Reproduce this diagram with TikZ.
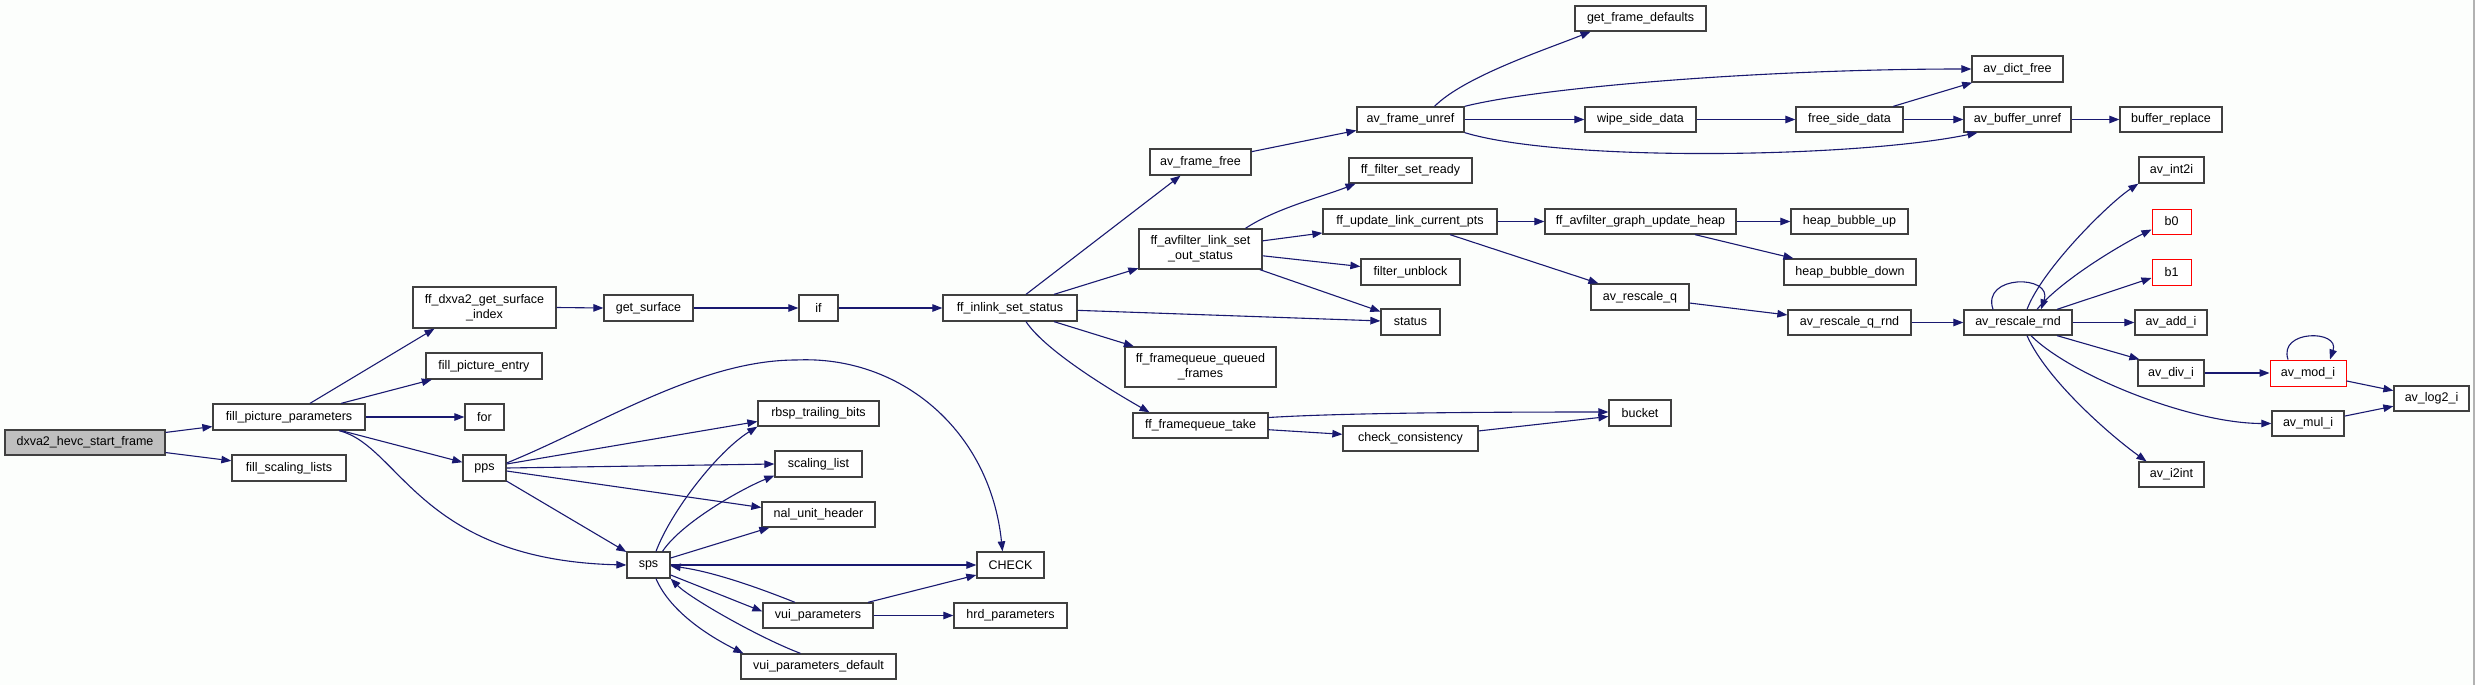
\documentclass[tikz,border=0pt]{standalone}
\usepackage{fontspec}
\setmainfont{Liberation Sans}
\usetikzlibrary{arrows.meta}
\definecolor{edgeblue}{HTML}{191970}
\definecolor{boxgray}{HTML}{404040}
\definecolor{startfill}{HTML}{BFBFBF}
\definecolor{bgcol}{HTML}{FCFEFC}
\definecolor{redbox}{HTML}{FF0000}
\begin{document}
\begin{tikzpicture}[x=1pt,y=1pt,
  box/.style={draw=boxgray, line width=1.3pt, fill=white, inner sep=0pt, align=center,
    font=\fontsize{12.5}{15}\selectfont},
  redb/.style={box, draw=redbox, line width=1pt},
  startb/.style={box, fill=startfill},
  e/.style={draw=edgeblue, line width=1.1pt, -{Triangle[length=10pt,width=7.5pt]}}]
\useasboundingbox (0,0) rectangle (2475,-685);
\fill[bgcol] (0,0) rectangle (2475,-685);
\draw[gray!60, line width=1.5pt] (2474,0) -- (2474,-685);
% nodes
\node[startb, minimum width=160pt, minimum height=25pt] (start) at (85,-442.5) {dxva2\_hevc\_start\_frame};
\node[box, minimum width=152pt, minimum height=26pt] (fpp) at (289,-417) {fill\_picture\_parameters};
\node[box, minimum width=114pt, minimum height=26pt] (fsl) at (289,-468) {fill\_scaling\_lists};
\node[box, minimum width=143pt, minimum height=41pt] (gsi) at (484.5,-307.5) {ff\_dxva2\_get\_surface\\\_index};
\node[box, minimum width=116pt, minimum height=26pt] (fpe) at (484,-366) {fill\_picture\_entry};
\node[box, minimum width=39pt, minimum height=26pt] (nfor) at (484.5,-417) {for};
\node[box, minimum width=43pt, minimum height=26pt] (pps) at (484.5,-468) {pps};
\node[box, minimum width=89pt, minimum height=26pt] (gs) at (648.5,-308) {get\_surface};
\node[box, minimum width=43pt, minimum height=26pt] (sps) at (648.5,-565) {sps};
\node[box, minimum width=39pt, minimum height=26pt] (nif) at (818.5,-308) {if};
\node[box, minimum width=121pt, minimum height=25pt] (rtb) at (818.5,-413.5) {rbsp\_trailing\_bits};
\node[box, minimum width=87pt, minimum height=26pt] (sl) at (818.5,-464) {scaling\_list};
\node[box, minimum width=113pt, minimum height=25pt] (nuh) at (818.5,-514.5) {nal\_unit\_header};
\node[box, minimum width=110pt, minimum height=25pt] (vui) at (818,-615.5) {vui\_parameters};
\node[box, minimum width=155pt, minimum height=25pt] (vuid) at (818.5,-666.5) {vui\_parameters\_default};
\node[box, minimum width=134pt, minimum height=26pt] (fis) at (1010,-308) {ff\_inlink\_set\_status};
\node[box, minimum width=67pt, minimum height=26pt] (check) at (1010.5,-565) {CHECK};
\node[box, minimum width=113pt, minimum height=25pt] (hrd) at (1010.5,-615.5) {hrd\_parameters};
\node[box, minimum width=101pt, minimum height=26pt] (aff) at (1200.5,-162) {av\_frame\_free};
\node[box, minimum width=123pt, minimum height=40pt] (fals) at (1200.5,-249) {ff\_avfilter\_link\_set\\\_out\_status};
\node[box, minimum width=151pt, minimum height=40pt] (fqq) at (1200.5,-367) {ff\_framequeue\_queued\\\_frames};
\node[box, minimum width=135pt, minimum height=25pt] (fqt) at (1200.5,-425.5) {ff\_framequeue\_take};
\node[box, minimum width=107pt, minimum height=25pt] (afu) at (1410.5,-119.5) {av\_frame\_unref};
\node[box, minimum width=123pt, minimum height=25pt] (ffsr) at (1410.5,-170.5) {ff\_filter\_set\_ready};
\node[box, minimum width=174pt, minimum height=25pt] (fulcp) at (1410,-221.5) {ff\_update\_link\_current\_pts};
\node[box, minimum width=99pt, minimum height=26pt] (fu) at (1410.5,-272) {filter\_unblock};
\node[box, minimum width=59pt, minimum height=26pt] (status) at (1410.5,-322) {status};
\node[box, minimum width=135pt, minimum height=25pt] (cc) at (1410.5,-438.5) {check\_consistency};
\node[box, minimum width=131pt, minimum height=25pt] (gfd) at (1640.5,-18.5) {get\_frame\_defaults};
\node[box, minimum width=111pt, minimum height=25pt] (wsd) at (1640.5,-119.5) {wipe\_side\_data};
\node[box, minimum width=191pt, minimum height=25pt] (fagu) at (1640.5,-221.5) {ff\_avfilter\_graph\_update\_heap};
\node[box, minimum width=98pt, minimum height=26pt] (arq) at (1640,-297) {av\_rescale\_q};
\node[box, minimum width=62pt, minimum height=26pt] (bucket) at (1640,-413) {bucket};
\node[box, minimum width=107pt, minimum height=25pt] (fsd) at (1849.5,-119.5) {free\_side\_data};
\node[box, minimum width=117pt, minimum height=25pt] (hbu) at (1849.5,-221.5) {heap\_bubble\_up};
\node[box, minimum width=132pt, minimum height=26pt] (hbd) at (1850,-272) {heap\_bubble\_down};
\node[box, minimum width=123pt, minimum height=25pt] (arqr) at (1849.5,-322.5) {av\_rescale\_q\_rnd};
\node[box, minimum width=91pt, minimum height=26pt] (adf) at (2017.5,-69) {av\_dict\_free};
\node[box, minimum width=107pt, minimum height=25pt] (abu) at (2017.5,-119.5) {av\_buffer\_unref};
\node[box, minimum width=108pt, minimum height=25pt] (arr) at (2018,-322.5) {av\_rescale\_rnd};
\node[box, minimum width=102pt, minimum height=25pt] (br) at (2171,-119.5) {buffer\_replace};
\node[box, minimum width=65pt, minimum height=26pt] (ai2) at (2171.5,-170) {av\_int2i};
\node[redb, minimum width=39pt, minimum height=25pt] (b0) at (2171.5,-221.5) {b0};
\node[redb, minimum width=39pt, minimum height=26pt] (b1) at (2171.5,-272) {b1};
\node[box, minimum width=72pt, minimum height=25pt] (aai) at (2171,-322.5) {av\_add\_i};
\node[box, minimum width=66pt, minimum height=26pt] (adi) at (2171,-373) {av\_div\_i};
\node[box, minimum width=65pt, minimum height=25pt] (ai2int) at (2171.5,-474.5) {av\_i2int};
\node[redb, minimum width=76pt, minimum height=26pt] (ami) at (2308,-373) {av\_mod\_i};
\node[box, minimum width=72pt, minimum height=25pt] (amul) at (2308,-423.5) {av\_mul\_i};
\node[box, minimum width=75pt, minimum height=25pt] (alog) at (2431.5,-398.5) {av\_log2\_i};
% edges
\draw[e] (start) -- (fpp);
\draw[e] (start) -- (fsl);
\draw[e] ([xshift=21pt]fpp.north) -- ([xshift=-50pt]gsi.south);
\draw[e] (fpp) -- (fpe);
\draw[e] (fpp) -- (nfor);
\draw[e] (fpp) -- (pps);
\draw[e] ([xshift=50pt]fpp.south) .. controls +(61,-15) and +(-207,5) .. (sps.west);
\draw[e] (gsi.east) -- (gs.west);
\draw[e] (gs) -- (nif);
\draw[e] (nif) -- (fis);
\draw[e] ([xshift=16pt]fis.north) -- ([xshift=-20pt]aff.south);
\draw[e] (fis) -- (fals);
\draw[e] (fis) -- (status);
\draw[e] (fis) -- (fqq);
\draw[e] ([xshift=16pt]fis.south) .. controls +(20,-30) and +(-35,20) .. ([xshift=-51pt]fqt.north);
\draw[e] (aff) -- (afu);
\draw[e] ([xshift=24pt]afu.north) .. controls +(30,30) and +(-45,-18) .. ([xshift=-50pt]gfd.south);
\draw[e] (afu.north east) .. controls +(80,20) and +(-200,0) .. (adf.west);
\draw[e] (afu) -- (wsd);
\draw[e] (afu.south east) .. controls +(100,-30) and +(-120,-25) .. ([xshift=-40pt]abu.south);
\draw[e] (wsd) -- (fsd);
\draw[e] (fsd) -- (adf);
\draw[e] (fsd) -- (abu);
\draw[e] (abu) -- (br);
\draw[e] ([xshift=45pt]fals.north) .. controls +(30,20) and +(-30,-12) .. ([xshift=-55pt]ffsr.south);
\draw[e] (fals) -- (fulcp);
\draw[e] (fals) -- (fu);
\draw[e] (fals) -- (status);
\draw[e] (fulcp) -- (fagu);
\draw[e] (fulcp) -- (arq);
\draw[e] (fagu) -- (hbu);
\draw[e] (fagu) -- (hbd);
\draw[e] (arq) -- (arqr);
\draw[e] (arqr) -- (arr);
\draw[e] ([xshift=-25pt]arr.north) .. controls +(-12,35) and +(12,35) .. ([xshift=23pt]arr.north);
\draw[e] ([xshift=9pt]arr.north) .. controls +(15,40) and +(-30,-20) .. (ai2.south west);
\draw[e] ([xshift=19pt]arr.north) .. controls +(25,30) and +(-30,-15) .. ([yshift=-8pt]b0.west);
\draw[e] ([xshift=39pt]arr.north) -- ([yshift=-6pt]b1.west);
\draw[e] (arr) -- (aai);
\draw[e] ([xshift=39pt]arr.south) -- ([xshift=2pt]adi.north west);
\draw[e] ([xshift=13pt]arr.south) .. controls +(40,-40) and +(-80,0) .. (amul.west);
\draw[e] ([xshift=9pt]arr.south) .. controls +(20,-45) and +(-35,25) .. ([xshift=-25pt]ai2int.north);
\draw[e] (adi) -- (ami);
\draw[e] ([xshift=-20pt]ami.north) .. controls +(-10,30) and +(10,30) .. ([xshift=22pt]ami.north);
\draw[e] (ami) -- (alog);
\draw[e] (amul) -- (alog);
\draw[e] ([yshift=8pt]fqt.east) .. controls +(80,5) and +(-100,0) .. ([yshift=1pt]bucket.west);
\draw[e] (fqt) -- (cc);
\draw[e] (cc) -- (bucket);
% pps / sps cluster
\draw[e] ([yshift=5pt]pps.east) .. controls (600,-425) and (700,-360) .. (796,-360)
  .. controls (900,-355) and (990,-430) .. ([xshift=-8pt]check.north);
\draw[e] ([yshift=4pt]pps.east) -- ([yshift=-8pt]rtb.west);
\draw[e] (pps.east) -- (sl.west);
\draw[e] ([yshift=-3pt]pps.east) -- ([yshift=7pt]nuh.west);
\draw[e] (pps) -- (sps);
\draw[e] ([xshift=7.5pt]sps.north) .. controls +(15,40) and +(-40,-25) .. (rtb.south west);
\draw[e] ([xshift=14pt]sps.north) .. controls +(20,30) and +(-30,-12) .. ([yshift=2pt]sl.south west);
\draw[e] ([yshift=7pt]sps.east) -- ([xshift=8pt]nuh.south west);
\draw[e] (sps) -- (check);
\draw[e] ([yshift=-10pt]sps.east) -- ([yshift=4pt]vui.west);
\draw[e] ([xshift=-23pt]vui.north) .. controls +(-30,12) and +(45,-6) .. ([yshift=-1pt]sps.east);
\draw[e] ([xshift=7.5pt]sps.south) .. controls +(15,-35) and +(-30,15) .. ([xshift=3pt]vuid.north west);
\draw[e] ([xshift=-18pt]vuid.north) .. controls +(-40,15) and +(20,-20) .. (sps.south east);
\draw[e] ([xshift=50pt]vui.north) -- ([yshift=-10pt]check.west);
\draw[e] (vui) -- (hrd);
\end{tikzpicture}
\end{document}
